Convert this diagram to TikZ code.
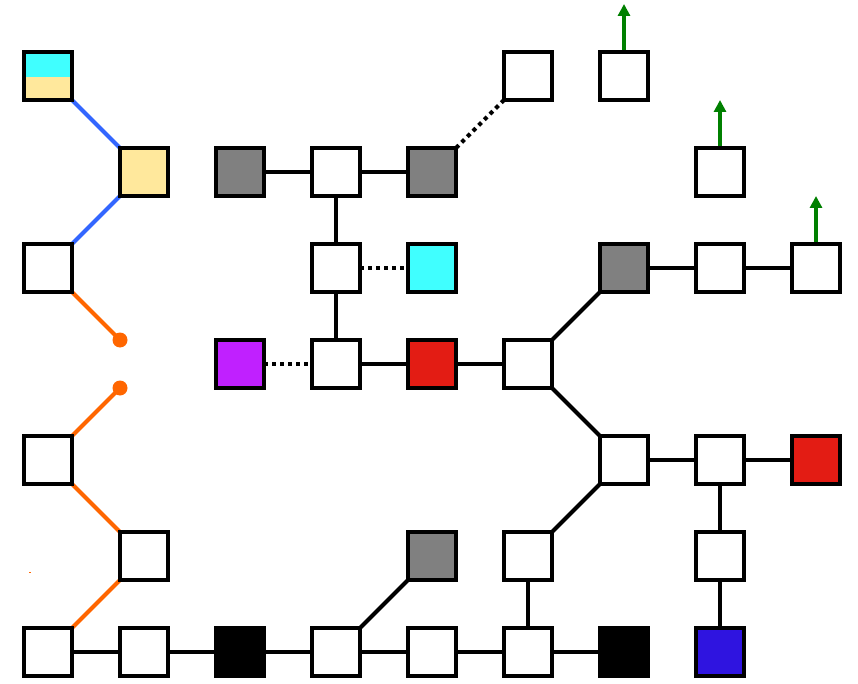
\documentclass[tikz,border=0pt]{standalone}
\usetikzlibrary{arrows.meta,backgrounds}
\definecolor{cy}{HTML}{40FFFF}
\definecolor{ye}{HTML}{FFE89C}
\definecolor{gr}{HTML}{808080}
\definecolor{pu}{HTML}{C020FF}
\definecolor{rd}{HTML}{E31C14}
\definecolor{bl}{HTML}{2F14E0}
\definecolor{bline}{HTML}{3366FF}
\definecolor{orng}{HTML}{FF6600}
\definecolor{grn}{HTML}{008000}
\begin{document}
\begin{tikzpicture}[x=1pt,y=-1pt,
  box/.style={draw=black,line width=4pt,minimum size=48pt,inner sep=0pt,outer sep=0pt,fill=white},
  link/.style={line width=4pt,black},
  dots/.style={line width=4pt,black,dash pattern=on 4pt off 4pt},
  blink/.style={line width=4pt,bline},
  olink/.style={line width=4pt,orng},
  dot/.style={circle,fill=orng,minimum size=15pt,inner sep=0pt},
  up/.style={line width=4pt,grn,-{Triangle[width=12pt,length=12pt]}}]
\useasboundingbox (0,0) rectangle (858,684);
% row 76
\node[box,path picture={\fill[ye] (path picture bounding box.south west) rectangle (path picture bounding box.north east);\fill[cy] (path picture bounding box.north west) rectangle ([yshift=-1pt]path picture bounding box.east);}] (a1) at (48,76) {};
\node[box] (a6) at (528,76) {};
\node[box] (a7) at (624,76) {};
% row 172
\node[box,fill=ye] (b2) at (144,172) {};
\node[box,fill=gr] (b3) at (240,172) {};
\node[box] (b4) at (336,172) {};
\node[box,fill=gr] (b5) at (432,172) {};
\node[box] (b8) at (720,172) {};
% row 268
\node[box] (c1) at (48,268) {};
\node[box] (c4) at (336,268) {};
\node[box,fill=cy] (c5) at (432,268) {};
\node[box,fill=gr] (c7) at (624,268) {};
\node[box] (c8) at (720,268) {};
\node[box] (c9) at (816,268) {};
% row 364
\node[box,fill=pu] (d3) at (240,364) {};
\node[box] (d4) at (336,364) {};
\node[box,fill=rd] (d5) at (432,364) {};
\node[box] (d6) at (528,364) {};
% row 460
\node[box] (e1) at (48,460) {};
\node[box] (e7) at (624,460) {};
\node[box] (e8) at (720,460) {};
\node[box,fill=rd] (e9) at (816,460) {};
% row 556
\node[box] (f2) at (144,556) {};
\node[box,fill=gr] (f5) at (432,556) {};
\node[box] (f6) at (528,556) {};
\node[box] (f8) at (720,556) {};
% row 652
\node[box] (g1) at (48,652) {};
\node[box] (g2) at (144,652) {};
\node[box,fill=black] (g3) at (240,652) {};
\node[box] (g4) at (336,652) {};
\node[box] (g5) at (432,652) {};
\node[box] (g6) at (528,652) {};
\node[box,fill=black] (g7) at (624,652) {};
\node[box,fill=bl] (g8) at (720,652) {};
% orange dots
\node[dot] (o1) at (120,340) {};
\node[dot] (o2) at (120,388) {};
% arrow ends
\coordinate (t7) at (624,4);
\coordinate (t8) at (720,100);
\coordinate (t9) at (816,196);
\coordinate (m1) at (29,572.5);
\coordinate (m2) at (31,572.5);
\begin{scope}[on background layer]
% blue links
\draw[blink] (a1.south east) -- (b2.north west);
\draw[blink] (b2.south west) -- (c1.north east);
% orange links
\draw[olink] (c1.south east) -- (o1.center);
\draw[olink] (o2.center) -- (e1.north east);
\draw[olink] (e1.south east) -- (f2.north west);
\draw[olink] (f2.south west) -- (g1.north east);
\draw[orng,line width=1pt] (m1) -- (m2);
% black links
\draw[link] (b3) -- (b4);
\draw[link] (b4) -- (b5);
\draw[link] (b4) -- (c4);
\draw[link] (c4) -- (d4);
\draw[dots] (c4.east) -- (c5.west);
\draw[dots] (d3.east) -- (d4.west);
\draw[dots] (b5.north east) -- (a6.south west);
\draw[link] (d4) -- (d5);
\draw[link] (d5) -- (d6);
\draw[link] (d6.north east) -- (c7.south west);
\draw[link] (c7) -- (c8);
\draw[link] (c8) -- (c9);
\draw[link] (d6.south east) -- (e7.north west);
\draw[link] (e7) -- (e8);
\draw[link] (e8) -- (e9);
\draw[link] (e8) -- (f8);
\draw[link] (f8) -- (g8);
\draw[link] (e7.south west) -- (f6.north east);
\draw[link] (f6) -- (g6);
\draw[link] (g1) -- (g2);
\draw[link] (g2) -- (g3);
\draw[link] (g3) -- (g4);
\draw[link] (g4) -- (g5);
\draw[link] (g5) -- (g6);
\draw[link] (g6) -- (g7);
\draw[link] (g4.north east) -- (f5.south west);
% green arrows
\draw[up] (a7.north) -- (t7);
\draw[up] (b8.north) -- (t8);
\draw[up] (c9.north) -- (t9);
\end{scope}
\end{tikzpicture}
\end{document}
